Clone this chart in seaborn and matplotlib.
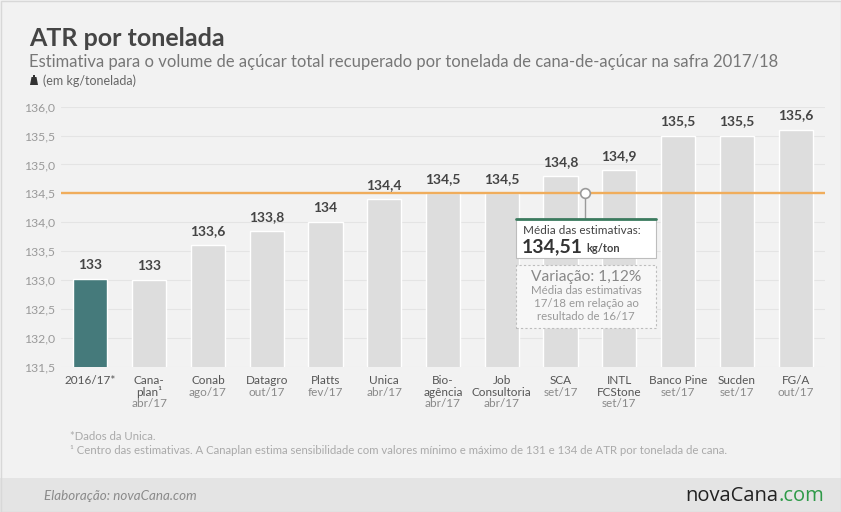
import matplotlib
matplotlib.use("Agg")
import matplotlib.pyplot as plt
import seaborn as sns
import pandas as pd
from matplotlib.patches import Rectangle, Polygon

# data
fontes = ["2016/17*", "Canaplan", "Conab", "Datagro", "Platts", "Unica", "Bioagencia",
          "Job Consultoria", "SCA", "INTL FCStone", "Banco Pine", "Sucden", "FG/A"]
atr = [133.02, 133.0, 133.6, 133.85, 134.0, 134.4, 134.5, 134.5, 134.8, 134.9, 135.5, 135.5, 135.6]
rotulos_valor = ["133", "133", "133,6", "133,8", "134", "134,4", "134,5", "134,5",
                 "134,8", "134,9", "135,5", "135,5", "135,6"]
nomes = [["2016/17*"], ["Cana-", "plan¹"], ["Conab"], ["Datagro"], ["Platts"], ["Unica"],
         ["Bio-", "agência"], ["Job", "Consultoria"], ["SCA"], ["INTL", "FCStone"],
         ["Banco Pine"], ["Sucden"], ["FG/A"]]
datas = ["", "abr/17", "ago/17", "out/17", "fev/17", "abr/17", "abr/17", "abr/17",
         "set/17", "set/17", "set/17", "set/17", "out/17"]
y_ticks = [131.5, 132.0, 132.5, 133.0, 133.5, 134.0, 134.5, 135.0, 135.5, 136.0]
media = 134.51

df = pd.DataFrame({"fonte": fontes, "atr": atr})

sns.set_style("white")
plt.rcParams["font.family"] = ["Lato", "DejaVu Sans"]

W, H = 841, 512
fig = plt.figure(figsize=(W / 100, H / 100), dpi=100, facecolor="#f2f2f2")


def px(x, y):
    return x / W, 1 - y / H


# background pieces
fig.patches.append(Rectangle((0, 0), 1, 34 / H, transform=fig.transFigure,
                             facecolor="#e4e4e4", edgecolor="none", zorder=0))
fig.patches.append(Rectangle((0.5 / W, 0.5 / H), 1 - 1 / W, 1 - 1 / H, transform=fig.transFigure,
                             facecolor="none", edgecolor="#d8d8d8", lw=1, zorder=1))

# axes
ax_l, ax_r, ax_b, ax_t = 61, 825, 367, 106.6
ax = fig.add_axes([ax_l / W, 1 - ax_b / H, (ax_r - ax_l) / W, (ax_b - ax_t) / H])
ax.set_facecolor("none")

cores = ["#457a7b"] + ["#dddddd"] * (len(fontes) - 1)
sns.barplot(data=df, x="fonte", y="atr", hue="fonte", palette=cores, legend=False,
            width=0.58, saturation=1, ax=ax, zorder=2)

ax.set_ylim(131.5, 136.0)
ax.set_xlim(-0.5, len(fontes) - 0.5)
ax.set_yticks(y_ticks)
ax.set_yticklabels([f"{v:.1f}".replace(".", ",") for v in y_ticks])
ax.tick_params(axis="y", length=0, pad=4, labelsize=8.8, labelcolor="#9a9a9a")
ax.set_xticks([])
ax.set_xlabel("")
ax.set_ylabel("")
for s in ax.spines.values():
    s.set_visible(False)
for v in y_ticks:
    ax.axhline(v, color="#e4e4e4", lw=0.8, zorder=1)

# media line
ax.axhline(media, color="#f0ad5c", lw=1.7, zorder=3)

# value labels
for i, (v, r) in enumerate(zip(atr, rotulos_valor)):
    ax.annotate(r, (i, v), xytext=(0, 6), textcoords="offset points",
                ha="center", va="bottom", fontsize=10, fontweight="bold", color="#444444")

# category labels
for i, (n, d) in enumerate(zip(nomes, datas)):
    linhas = [(t, "#555555") for t in n] + ([(d, "#8a8a8a")] if d else [])
    for k, (t, c) in enumerate(linhas):
        ax.annotate(t, (i, 0), xycoords=ax.get_xaxis_transform(),
                    xytext=(0, -14 / 1.389 - k * 11.3 / 1.389), textcoords="offset points",
                    ha="center", va="center", fontsize=8.5, color=c)

# annotation: marker and boxes
xm = 8.42
ax.plot([xm, xm], [media, 133.895], color="#9a9a9a", lw=1, zorder=4)
ax.plot([xm], [media], marker="o", ms=7, mfc="white", mec="#9a9a9a", mew=1.2, zorder=5)

fig.patches.append(Rectangle(px(516, 258), 140 / W, 39 / H, transform=fig.transFigure,
                             facecolor="white", edgecolor="#bdbdbd", lw=0.8, zorder=5))
fig.lines.append(plt.Line2D([516 / W, 656 / W], [1 - 219 / H] * 2, transform=fig.transFigure,
                            color="#3b7a5e", lw=2, zorder=6))
fig.text(*px(523, 230), "Média das estimativas:", fontsize=8.5, color="#444444",
         ha="left", va="center", zorder=7)
fig.text(*px(522, 247), "134,51", fontsize=14, fontweight="bold", color="#333333",
         ha="left", va="center", zorder=7)
fig.text(*px(586, 249), "kg/ton", fontsize=8, fontweight="bold", color="#444444",
         ha="left", va="center", zorder=7)

fig.patches.append(Rectangle(px(516, 328), 140 / W, 63 / H, transform=fig.transFigure,
                             facecolor="#f7f7f7", edgecolor="#bdbdbd", lw=0.8,
                             linestyle=(0, (2, 2)), zorder=5))
fig.text(*px(586, 277), "Variação: 1,12%", fontsize=11.2, color="#888888",
         ha="center", va="center", zorder=7)
for k, t in enumerate(["Média das estimativas", "17/18 em relação ao", "resultado de 16/17"]):
    fig.text(*px(586, 291 + k * 12.5), t, fontsize=8.3, color="#999999",
             ha="center", va="center", zorder=7)

# titles
fig.text(*px(29, 46), "ATR por tonelada", fontsize=18, fontweight="bold",
         color="#454545", ha="left", va="baseline")
fig.text(*px(29, 67), "Estimativa para o volume de açúcar total recuperado por tonelada de "
         "cana-de-açúcar na safra 2017/18", fontsize=12, color="#777777",
         ha="left", va="baseline")
fig.patches.append(Polygon([px(30, 85), px(38, 85), px(36.5, 77), px(31.5, 77)], closed=True,
                           transform=fig.transFigure, facecolor="#333333", edgecolor="none"))
fig.patches.append(Rectangle(px(32.8, 77), 2.4 / W, 2.5 / H, transform=fig.transFigure,
                             facecolor="#333333", edgecolor="none"))
fig.text(*px(43, 81), "(em kg/tonelada)", fontsize=9, color="#666666",
         ha="left", va="center")

# footnotes
fig.text(*px(70, 436), "*Dados da Unica.", fontsize=8.2, color="#aaaaaa", ha="left", va="center")
fig.text(*px(70, 451), "¹ Centro das estimativas. A Canaplan estima sensibilidade com valores "
         "mínimo e máximo de 131 e 134 de ATR por tonelada de cana.",
         fontsize=8.2, color="#aaaaaa", ha="left", va="center")

# footer
fig.text(*px(44, 496), "Elaboração: novaCana.com", fontsize=9.6, style="italic",
         color="#8a8a8a", ha="left", va="center")
fig.text(*px(778, 496), "novaCana", fontsize=14.5, color="#222222", ha="right", va="center",
         family=["Open Sans", "DejaVu Sans"])
fig.text(*px(778, 496), ".com", fontsize=14.5, color="#2e9a48", ha="left", va="center",
         family=["Open Sans", "DejaVu Sans"])

fig.savefig("out.png", dpi=100, facecolor=fig.get_facecolor())
